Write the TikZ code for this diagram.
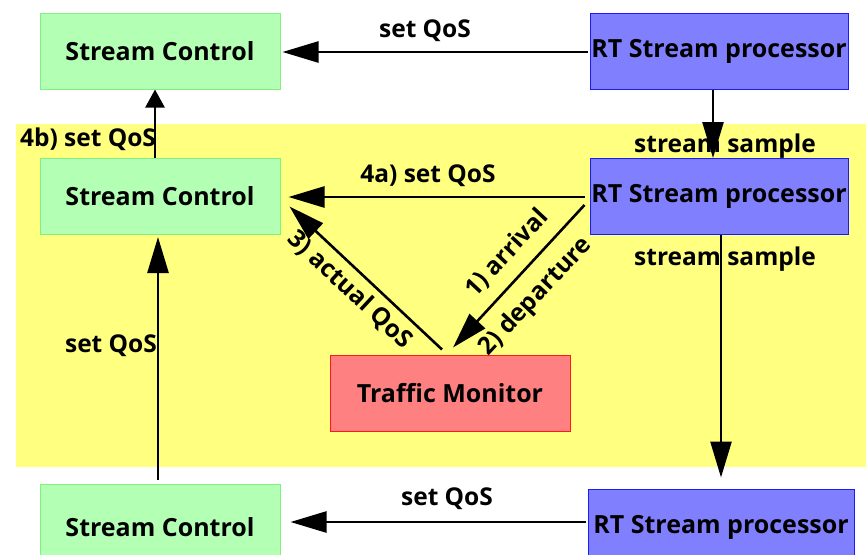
\documentclass[tikz,border=0pt]{standalone}
\usepackage{fontspec}
\setmainfont{Open Sans}
\usetikzlibrary{arrows.meta,calc}
\definecolor{gfill}{HTML}{B3FFB3}
\definecolor{gdraw}{HTML}{80F080}
\definecolor{bfill}{HTML}{8080FF}
\definecolor{bdraw}{HTML}{1A1AFF}
\definecolor{rfill}{HTML}{FF8080}
\definecolor{rdraw}{HTML}{FF1A1A}
\definecolor{yfill}{HTML}{FFFF80}
\tikzset{
  box/.style={inner sep=0pt, minimum width=240pt, minimum height=76pt, line width=1pt, font=\fontsize{25}{27}\selectfont\bfseries},
  scbox/.style={box, fill=gfill, draw=gdraw},
  rtbox/.style={box, fill=bfill, draw=bdraw, minimum width=258pt},
  tmbox/.style={box, fill=rfill, draw=rdraw},
  lbl/.style={inner sep=0pt, font=\fontsize{24.5}{27}\selectfont\bfseries},
  arr/.style={line width=2.6pt, -{Triangle[length=36pt,width=21pt]}},
}
\begin{document}
\begin{tikzpicture}[x=1pt,y=-1pt]
\useasboundingbox (0,0) rectangle (866,554);
\clip (0,0) rectangle (866,554);
\fill[yfill] (16,124) rectangle (866,467);
% nodes
\node[scbox] (sc1) at (160,51) {\raisebox{-4pt}{Stream Control}};
\node[scbox] (sc2) at (160,196.5) {\raisebox{-4pt}{Stream Control}};
\node[scbox, minimum height=86pt] (sc3) at (160,527) {\raisebox{-2pt}{Stream Control}};
\node[rtbox] (rt1) at (719,51) {\raisebox{-4pt}{RT Stream processor}};
\node[rtbox] (rt2) at (719,196.5) {\raisebox{-3pt}{RT Stream processor}};
\node[rtbox, minimum width=266pt] (rt3) at (721,527) {\raisebox{-2pt}{RT Stream processor}};
\node[tmbox] (tm) at (450,393) {\raisebox{-4pt}{Traffic Monitor}};
% connectors
\draw[arr] ($(rt1.west)+(-2,1)$) -- ($(sc1.east)+(2,1)$);
\draw[arr] ($(rt1.south)+(-6,0)$) -- ($(rt2.north)+(-6,0)$);
\draw[arr] ($(rt2.west)+(-5,0.5)$) -- ($(sc2.east)+(8,0.5)$);
\draw[arr] ($(rt2.west)+(-5,8.5)$) -- ($(tm.north)+(3,-7)$);
\draw[arr] ($(tm.north)+(-8,-5)$) -- ($(sc2.east)+(9,10)$);
\draw[arr, -{Triangle[length=18pt,width=19pt]}] ($(sc2.north)+(-5,0)$) -- ($(sc1.south)+(-5,0)$);
\draw[arr] ($(sc3.north)+(-2,-4)$) -- ($(sc2.south)+(-2,2)$);
\draw[arr] ($(rt2.south)+(2,0)$) -- ($(rt3.north)+(0,-11)$);
\draw[arr] ($(rt3.west)+(-2,-5)$) -- ($(sc3.east)+(10,-5)$);
% labels
\node[lbl] (l1) at (425,31) {set QoS};
\node[lbl] (l2) at (725,146) {stream sample};
\node[lbl] (l3) at (428,176) {4a) set QoS};
\node[lbl] (l4) at (725,259) {stream sample};
\node[lbl] (l5) at (88,139) {4b) set QoS};
\node[lbl] (l6) at (111,346) {set QoS};
\node[lbl] (l7) at (447,499) {set QoS};
\node[lbl, rotate=47] (l8) at (507,253) {1) arrival};
\node[lbl, rotate=47] (l9) at (536,297) {2) departure};
\node[lbl, rotate=-43] (l10) at (350,290) {3) actual QoS};
\end{tikzpicture}
\end{document}
